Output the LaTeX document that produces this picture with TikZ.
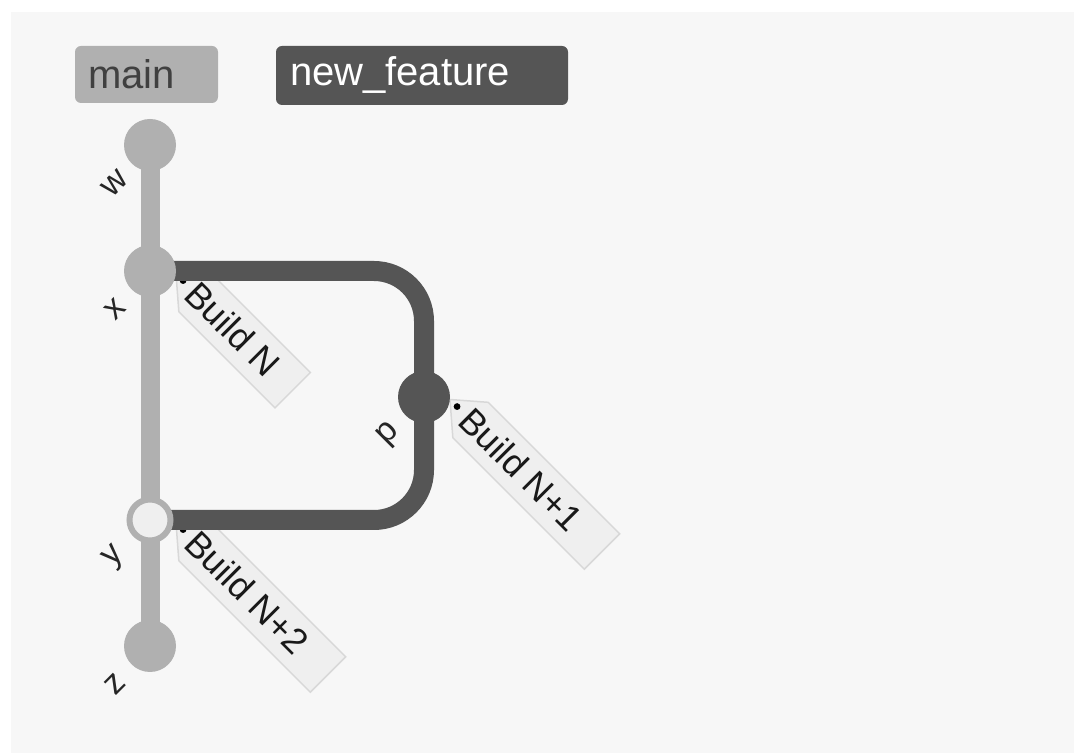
\documentclass[tikz,border=0pt]{standalone}
\usepackage{fontspec}
\setmainfont{Liberation Sans}
\usetikzlibrary{positioning,backgrounds}

\definecolor{maingray}{HTML}{B0B0B0}
\definecolor{featgray}{HTML}{555555}
\definecolor{canvasgray}{HTML}{F7F7F7}
\definecolor{tagfill}{HTML}{EFEFEF}
\definecolor{tagline}{HTML}{D8D8D8}

\begin{document}
\begin{tikzpicture}[x=0.5pt,y=-0.5pt,
    commit/.style={circle,fill=maingray,inner sep=0pt,outer sep=0pt,minimum size=26pt},
    commitlbl/.style={rotate=45,inner sep=0pt,text=black!85,font=\fontsize{17}{19}\selectfont},
    branchbox/.style={rounded corners=3pt,inner ysep=0pt,align=left,font=\fontsize{20}{22}\selectfont},
    tagbox/.style={fill=tagfill,draw=tagline,line width=0.75pt},
    taglbl/.style={rotate=-45,anchor=west,inner sep=0pt,text=black!90,font=\fontsize{18}{20}\selectfont},
    mainline/.style={maingray,line width=9.5pt},
    featline/.style={featgray,line width=10pt,rounded corners=25pt}]

    \useasboundingbox (0,0) rectangle (1089,753);

    % branch names
    \node[branchbox,fill=maingray,text=black!75,text width=58.5pt,inner xsep=6.5pt,minimum height=28.5pt] (mainlbl) at (146.5,74.5) {main};
    \node[branchbox,fill=featgray,text=white,text width=132pt,inner xsep=7pt,minimum height=29.5pt] (featlbl) at (422,75.5) {new\_feature};

    % commits
    \node[commit] (cw) at (150,145) {};
    \node[commit] (cx) at (150,271) {};
    \node[commit,fill=tagfill,draw=maingray,line width=3pt,minimum size=20.5pt] (cy) at (150,520) {};
    \node[commit] (cz) at (150,646) {};
    \node[commit,fill=featgray] (cp) at (424,397) {};

    % commit ids
    \foreach \c/\t in {cw/w,cx/x,cy/y,cz/z,cp/p}
    \node[commitlbl] (lbl\t) at ([xshift=-17.5pt,yshift=-19pt]\c.center) {\t};

    % tags and branch lines go under the commits
    \begin{pgfonlayer}{background}
    \fill[white] (0,0) rectangle (1089,753);
    \fill[canvasgray] (11,12) rectangle (1074,753);
    \foreach \c/\t/\l in {cx/Build N/165,cp/Build N+1/215,cy/Build N+2/215}{
      \begin{scope}[shift={([xshift=13pt,yshift=-1.25pt]\c.center)},rotate=-45,x=0.5pt,y=0.5pt]
        \draw[tagbox] (0,0) -- (29,25) -- (\l,25) -- (\l,-25) -- (29,-25) -- cycle;
        \fill (10,0) circle (1.7pt);
        \node[taglbl] (tag\c) at (21,1) {\t};
      \end{scope}}
    \draw[mainline] (cw.center) -- (cz.center);
    \draw[featline] (cx.center) -| (cp.center) |- (cy.center);
    \end{pgfonlayer}

\end{tikzpicture}
\end{document}
